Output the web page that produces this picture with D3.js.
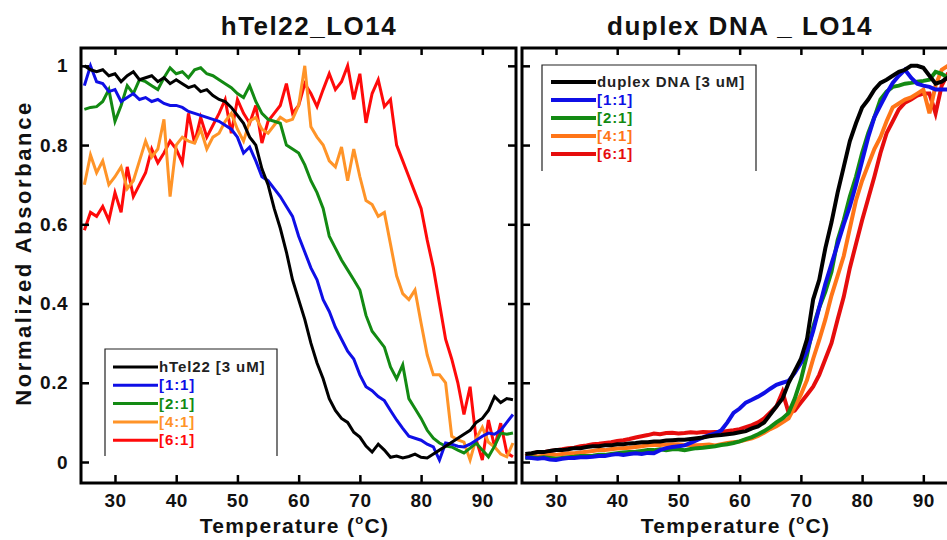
<!DOCTYPE html>
<html>
<head>
<meta charset="utf-8">
<script src="https://cdn.jsdelivr.net/npm/d3@7"></script>
<style>
  body { margin: 0; background: #fff; }
  svg { display: block; font-family: "Liberation Sans", Arial, sans-serif; }
</style>
</head>
<body>
<div id="chart"></div>
<script>
// temperature grid (°C), one reading per degree
const temps = [25,26,27,28,29,30,31,32,33,34,35,36,37,38,39,40,41,42,43,44,45,46,47,48,49,50,51,52,53,54,55,56,57,58,59,60,61,62,63,64,65,66,67,68,69,70,71,72,73,74,75,76,77,78,79,80,81,82,83,84,85,86,87,88,89,90,91,92,93,94,95];

// hTel22_LO14 panel
const hTel22 = [1.0,0.99,0.985,0.99,0.975,0.98,0.96,0.975,0.985,0.965,0.97,0.975,0.96,0.97,0.955,0.965,0.955,0.945,0.95,0.935,0.94,0.925,0.915,0.91,0.895,0.875,0.855,0.82,0.8,0.74,0.7,0.64,0.59,0.53,0.46,0.41,0.36,0.3,0.25,0.21,0.16,0.13,0.11,0.1,0.075,0.063,0.04,0.025,0.045,0.03,0.012,0.015,0.01,0.014,0.02,0.012,0.01,0.02,0.03,0.04,0.05,0.06,0.07,0.08,0.1,0.11,0.13,0.165,0.15,0.16,0.157];
const hTel11 = [0.95,1.0,0.96,0.955,0.935,0.94,0.91,0.92,0.93,0.915,0.92,0.91,0.915,0.905,0.9,0.9,0.895,0.885,0.88,0.875,0.87,0.865,0.86,0.85,0.84,0.82,0.78,0.795,0.76,0.72,0.71,0.69,0.67,0.645,0.62,0.57,0.53,0.49,0.46,0.41,0.38,0.34,0.31,0.28,0.26,0.22,0.19,0.18,0.165,0.155,0.13,0.106,0.085,0.065,0.06,0.055,0.045,0.038,0.005,0.048,0.045,0.04,0.038,0.045,0.055,0.065,0.073,0.07,0.08,0.1,0.12];
const hTel21 = [0.89,0.895,0.897,0.91,0.94,0.86,0.9,0.95,0.93,0.965,0.96,0.95,0.94,0.97,0.995,0.98,0.985,0.97,0.99,0.995,0.98,0.975,0.965,0.955,0.945,0.93,0.92,0.95,0.91,0.88,0.865,0.86,0.855,0.8,0.79,0.78,0.75,0.71,0.68,0.64,0.57,0.54,0.51,0.485,0.46,0.434,0.37,0.33,0.31,0.29,0.24,0.21,0.245,0.16,0.135,0.11,0.08,0.06,0.048,0.04,0.038,0.03,0.023,0.035,0.048,0.03,0.013,0.04,0.073,0.07,0.073];
const hTel41 = [0.70,0.775,0.73,0.76,0.7,0.72,0.745,0.69,0.71,0.76,0.81,0.77,0.79,0.865,0.67,0.8,0.82,0.81,0.805,0.84,0.79,0.82,0.83,0.86,0.88,0.84,0.81,0.86,0.87,0.84,0.83,0.85,0.87,0.86,0.865,0.9,1.0,0.846,0.82,0.8,0.76,0.745,0.795,0.71,0.79,0.72,0.66,0.65,0.62,0.63,0.55,0.47,0.425,0.41,0.434,0.35,0.27,0.22,0.22,0.2,0.065,0.056,0.05,0.005,0.06,0.088,0.05,0.038,0.02,0.013,0.048];
const hTel61 = [0.585,0.63,0.62,0.645,0.61,0.68,0.63,0.745,0.67,0.7,0.73,0.79,0.755,0.78,0.81,0.79,0.755,0.88,0.805,0.87,0.82,0.85,0.88,0.915,0.83,0.915,0.88,0.855,0.9,0.805,0.86,0.88,0.9,0.955,0.88,0.9,0.955,0.93,0.897,0.94,0.98,0.94,0.96,1.0,0.915,0.98,0.856,0.93,0.965,0.897,0.915,0.8,0.76,0.72,0.68,0.64,0.56,0.49,0.4,0.31,0.26,0.2,0.12,0.19,0.056,0.005,0.106,0.038,0.098,0.023,0.013];

// duplex DNA _ LO14 panel
const dna = [0.02,0.022,0.025,0.025,0.028,0.03,0.03,0.032,0.035,0.035,0.038,0.04,0.04,0.042,0.042,0.045,0.045,0.047,0.048,0.05,0.05,0.052,0.052,0.054,0.055,0.056,0.056,0.058,0.06,0.062,0.065,0.067,0.068,0.07,0.072,0.075,0.078,0.085,0.09,0.1,0.12,0.14,0.16,0.2,0.23,0.26,0.31,0.41,0.46,0.54,0.605,0.68,0.745,0.81,0.855,0.895,0.915,0.94,0.957,0.965,0.975,0.985,0.99,1.0,1.0,0.995,0.975,0.955,0.96,0.97,0.97];
const dna11 = [0.012,0.01,0.008,0.01,0.006,0.005,0.008,0.01,0.01,0.012,0.012,0.013,0.015,0.015,0.018,0.02,0.018,0.02,0.022,0.02,0.023,0.022,0.03,0.035,0.038,0.04,0.042,0.048,0.055,0.062,0.068,0.072,0.08,0.1,0.124,0.135,0.15,0.157,0.165,0.174,0.185,0.195,0.2,0.205,0.225,0.25,0.28,0.33,0.39,0.45,0.5,0.55,0.6,0.645,0.7,0.76,0.82,0.87,0.9,0.93,0.957,0.975,0.99,0.97,0.955,0.95,0.947,0.94,0.94,0.94,0.94];
const dna21 = [0.01,0.012,0.01,0.012,0.01,0.008,0.01,0.012,0.013,0.015,0.015,0.016,0.018,0.018,0.02,0.022,0.024,0.025,0.026,0.028,0.03,0.03,0.032,0.03,0.032,0.032,0.03,0.033,0.035,0.036,0.038,0.04,0.043,0.045,0.048,0.052,0.058,0.063,0.07,0.078,0.088,0.1,0.11,0.124,0.16,0.207,0.27,0.34,0.39,0.43,0.48,0.56,0.61,0.67,0.72,0.78,0.83,0.87,0.915,0.935,0.947,0.95,0.955,0.957,0.96,0.962,0.965,0.985,0.98,0.97,0.965];
const dna41 = [0.012,0.015,0.014,0.016,0.018,0.018,0.02,0.022,0.022,0.024,0.026,0.028,0.03,0.03,0.032,0.034,0.035,0.036,0.038,0.04,0.042,0.043,0.043,0.044,0.045,0.045,0.043,0.042,0.042,0.043,0.044,0.042,0.045,0.048,0.05,0.052,0.056,0.06,0.066,0.074,0.083,0.09,0.1,0.11,0.14,0.17,0.207,0.26,0.308,0.36,0.42,0.47,0.52,0.59,0.66,0.71,0.75,0.79,0.82,0.86,0.895,0.905,0.915,0.92,0.93,0.94,0.88,0.95,0.99,1.0,0.98];
const dna61 = [0.015,0.02,0.025,0.025,0.028,0.03,0.032,0.035,0.036,0.04,0.042,0.045,0.046,0.048,0.05,0.053,0.055,0.058,0.062,0.065,0.068,0.072,0.07,0.073,0.074,0.072,0.073,0.075,0.074,0.076,0.075,0.076,0.076,0.078,0.08,0.083,0.088,0.093,0.1,0.11,0.125,0.14,0.177,0.124,0.13,0.15,0.17,0.19,0.22,0.26,0.3,0.36,0.417,0.49,0.55,0.61,0.665,0.72,0.78,0.83,0.86,0.89,0.907,0.915,0.925,0.93,0.93,0.88,0.95,0.98,0.99];

const xTicks = [30, 40, 50, 60, 70, 80, 90];
const yTicks = [0, 0.2, 0.4, 0.6, 0.8, 1];
const yTickLabels = ["0", "0.2", "0.4", "0.6", "0.8", "1"];

const panels = [
  {
    title: "hTel22_LO14", titleX: 309, left: 81,
    legend: { x: 105, y: 349, w: 172, h: 107, lineX: 8, lineW: 45, gap: 18.3, first: 18, sw: 3 },
    sw: 3, yLabels: true,
    series: [
      { name: "hTel22 [3 uM]", values: hTel22, color: "#000000" },
      { name: "[1:1]", values: hTel11, color: "#0f0fe6" },
      { name: "[2:1]", values: hTel21, color: "#138a13" },
      { name: "[4:1]", values: hTel41, color: "#ff9428" },
      { name: "[6:1]", values: hTel61, color: "#ff0a0a" }
    ]
  },
  {
    title: "duplex DNA _ LO14", titleX: 740, left: 522,
    legend: { x: 542, y: 65, w: 214, h: 106, lineX: 9, lineW: 45, gap: 18, first: 17, sw: 4 },
    sw: 4, yLabels: false,
    series: [
      { name: "duplex DNA [3 uM]", values: dna, color: "#000000" },
      { name: "[1:1]", values: dna11, color: "#0f0fe6" },
      { name: "[2:1]", values: dna21, color: "#138a13" },
      { name: "[4:1]", values: dna41, color: "#ff7518" },
      { name: "[6:1]", values: dna61, color: "#e60d0d" }
    ]
  }
];

const W = 947, H = 540;
const plotTop = 48, plotBottom = 483, pw = 435;

const svg = d3.select("#chart").append("svg").attr("width", W).attr("height", H);

const y = d3.scaleLinear().domain([-0.053, 1.045]).range([plotBottom, plotTop]);

panels.forEach((p, pi) => {
  const x = d3.scaleLinear().domain([24.45, 95.5]).range([p.left, p.left + pw]);
  const g = svg.append("g");

  const clipId = "clip" + pi;
  svg.append("clipPath").attr("id", clipId).append("rect")
    .attr("x", p.left).attr("y", plotTop).attr("width", pw).attr("height", plotBottom - plotTop);

  // curves
  const line = d3.line().x((d, i) => x(temps[i])).y(d => y(d));
  g.append("g").attr("clip-path", `url(#${clipId})`).selectAll("path").data(p.series.slice().reverse()).join("path")
    .attr("d", d => line(d.values)).attr("fill", "none").attr("stroke", d => d.color)
    .attr("stroke-width", p.sw).attr("stroke-linejoin", "miter");

  // ticks on all four sides, inward
  const tickStyle = sel => { sel.select(".domain").remove(); sel.selectAll(".tick line").attr("stroke", "#000").attr("stroke-width", 2.5); };
  g.append("g").attr("transform", `translate(0,${plotBottom})`)
    .call(d3.axisBottom(x).tickValues(xTicks).tickSize(-8).tickPadding(11).tickFormat(d3.format("d")))
    .call(tickStyle)
    .selectAll("text").attr("fill", "#111").style("font-size", "19px").style("font-weight", "bold").style("letter-spacing", "0.5px");
  g.append("g").attr("transform", `translate(0,${plotTop})`)
    .call(d3.axisTop(x).tickValues(xTicks).tickSize(-7).tickFormat(""))
    .call(tickStyle);
  g.append("g").attr("transform", `translate(${p.left},0)`)
    .call(d3.axisLeft(y).tickValues(yTicks).tickSize(-8).tickPadding(13).tickFormat((d, i) => p.yLabels ? yTickLabels[i] : ""))
    .call(tickStyle)
    .selectAll("text").attr("fill", "#111").style("font-size", "19px").style("font-weight", "bold").style("letter-spacing", "0.5px");
  g.append("g").attr("transform", `translate(${p.left + pw},0)`)
    .call(d3.axisRight(y).tickValues(yTicks).tickSize(-8).tickFormat(""))
    .call(tickStyle);

  // frame
  g.append("rect").attr("x", p.left).attr("y", plotTop).attr("width", pw).attr("height", plotBottom - plotTop)
    .attr("fill", "none").attr("stroke", "#000").attr("stroke-width", 3);

  // title
  g.append("text").attr("x", p.titleX).attr("y", 35).attr("text-anchor", "middle")
    .style("font-size", "26px").style("font-weight", "bold").style("letter-spacing", "1.5px").attr("fill", "#111")
    .text(p.title);

  // x axis title with superscript degree
  const xt = g.append("text").attr("x", p.left + pw / 2 - 4).attr("y", 533).attr("text-anchor", "middle")
    .style("font-size", "21px").style("font-weight", "bold").style("letter-spacing", "1.3px").attr("fill", "#111");
  xt.append("tspan").text("Temperature (");
  xt.append("tspan").attr("dy", -9).style("font-size", "13px").text("o");
  xt.append("tspan").attr("dy", 9).text("C)");

  // legend: open box (no bottom edge)
  const L = p.legend;
  const lg = g.append("g").attr("transform", `translate(${L.x},${L.y})`);
  lg.append("path").attr("d", `M0,${L.h}V0H${L.w}V${L.h}`).attr("fill", "none").attr("stroke", "#222").attr("stroke-width", 1.2);
  p.series.forEach((s, i) => {
    const yy = L.first + i * L.gap;
    lg.append("line").attr("x1", L.lineX).attr("x2", L.lineX + L.lineW).attr("y1", yy).attr("y2", yy)
      .attr("stroke", s.color).attr("stroke-width", L.sw);
    lg.append("text").attr("x", L.lineX + L.lineW + 1).attr("y", yy + 5)
      .style("font-size", "15px").style("font-weight", "bold").style("letter-spacing", "0.9px")
      .attr("fill", s.color === "#000000" ? "#222" : s.color).text(s.name);
  });
});

// y axis title
svg.append("text").attr("transform", "translate(31,253) rotate(-90)").attr("text-anchor", "middle")
  .style("font-size", "22px").style("font-weight", "bold").style("letter-spacing", "2.6px").attr("fill", "#111")
  .text("Normalized Absorbance");
</script>
</body>
</html>
